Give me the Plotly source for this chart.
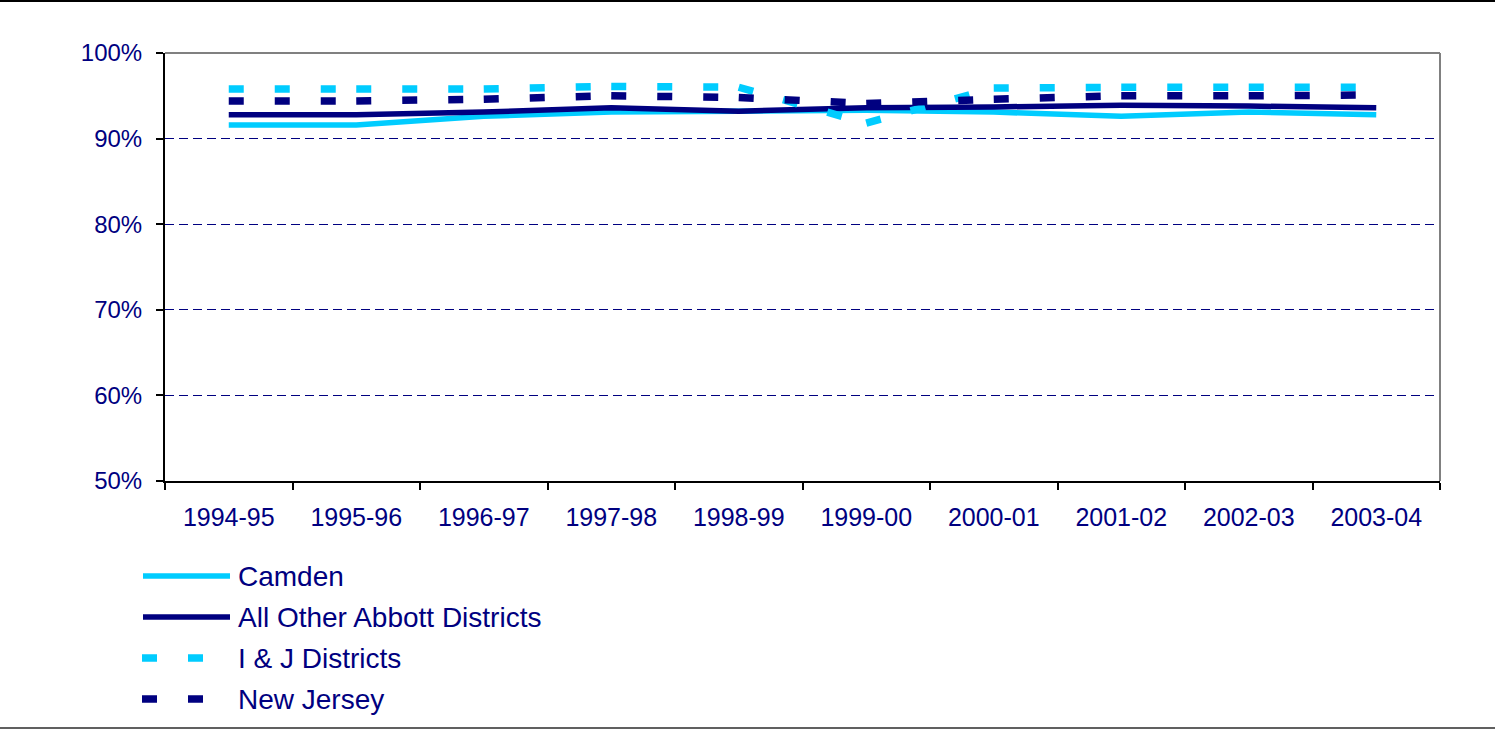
import plotly.graph_objects as go

# ---------------- data ----------------
years = ["1994-95", "1995-96", "1996-97", "1997-98", "1998-99",
         "1999-00", "2000-01", "2001-02", "2002-03", "2003-04"]
series_names = ["Camden", "All Other Abbott Districts", "I & J Districts", "New Jersey"]
camden = [91.6, 91.6, 92.6, 93.1, 93.2, 93.3, 93.1, 92.6, 93.1, 92.8]
all_other_abbott = [92.8, 92.8, 93.1, 93.6, 93.2, 93.6, 93.7, 93.9, 93.8, 93.6]
i_and_j = [95.8, 95.8, 95.8, 96.1, 96.0, 91.8, 95.9, 96.0, 96.0, 96.0]
new_jersey = [94.4, 94.4, 94.6, 95.0, 94.8, 94.1, 94.6, 95.0, 95.0, 95.1]
y_ticks = [50, 60, 70, 80, 90, 100]

# ---------------- style ----------------
CYAN = "#00CCFF"
NAVY = "#000080"
FONT = "Arial, Liberation Sans, sans-serif"
W, H = 1495, 729
ML, MR, MT, MB = 165, 55, 53, 248
PW, PH = W - ML - MR, H - MT - MB
DASH = "15px,31px"

styles = [
    dict(color=CYAN, width=5.5, dash="solid"),
    dict(color=NAVY, width=5.5, dash="solid"),
    dict(color=CYAN, width=7.5, dash=DASH),
    dict(color=NAVY, width=7.5, dash=DASH),
]
values = [camden, all_other_abbott, i_and_j, new_jersey]


def px(x):
    return (x - ML) / PW


def py(y):
    return (H - MB - y) / PH


fig = go.Figure()
for name, vals, st in zip(series_names, values, styles):
    if st["dash"] == "solid":
        fig.add_trace(go.Scatter(x=years, y=vals, mode="lines", name=name,
                                 line=dict(color=st["color"], width=st["width"]),
                                 showlegend=False))
    else:
        # Excel restarts the dash pattern on each segment
        for i in range(len(years) - 1):
            fig.add_trace(go.Scatter(x=years[i:i + 2], y=vals[i:i + 2], mode="lines",
                                     name=name,
                                     line=dict(color=st["color"], width=st["width"],
                                               dash=st["dash"]),
                                     showlegend=False))

shapes = [
    # plot area border (top and right, grey)
    dict(type="line", xref="paper", yref="paper", x0=0, x1=1, y0=1, y1=1,
         line=dict(color="#808080", width=2)),
    dict(type="line", xref="paper", yref="paper", x0=1, x1=1, y0=0, y1=1,
         line=dict(color="#808080", width=2)),
    # picture frame lines
    dict(type="line", xref="paper", yref="paper", x0=px(0), x1=px(W), y0=py(1), y1=py(1),
         line=dict(color="#000000", width=2)),
    dict(type="line", xref="paper", yref="paper", x0=px(0), x1=px(W), y0=py(728), y1=py(728),
         line=dict(color="#606060", width=2)),
]

annotations = []
legend_y = [576, 617, 658, 699]
for name, st, ly in zip(series_names, styles, legend_y):
    if st["dash"] == "solid":
        shapes.append(dict(type="line", xref="paper", yref="paper",
                           x0=px(143), x1=px(230), y0=py(ly), y1=py(ly),
                           line=dict(color=st["color"], width=st["width"])))
    else:
        shapes.append(dict(type="line", xref="paper", yref="paper",
                           x0=px(142), x1=px(203), y0=py(ly), y1=py(ly),
                           line=dict(color=st["color"], width=st["width"], dash=DASH)))
    annotations.append(dict(xref="paper", yref="paper", x=px(236), y=py(ly),
                            text=name, showarrow=False, xanchor="left", yanchor="middle",
                            font=dict(family=FONT, size=28, color=NAVY)))

fig.update_layout(
    width=W, height=H,
    margin=dict(l=ML, r=MR, t=MT, b=MB),
    paper_bgcolor="white", plot_bgcolor="white",
    showlegend=False,
    shapes=shapes,
    annotations=annotations,
    font=dict(family=FONT, color=NAVY),
)
fig.update_xaxes(
    type="category", range=[-0.5, len(years) - 0.5],
    tickson="boundaries", ticks="outside", ticklen=7, tickwidth=1.5, tickcolor="black",
    showline=True, linecolor="black", linewidth=2, showgrid=False, zeroline=False,
    ticklabelstandoff=13,
    tickfont=dict(family=FONT, size=25, color=NAVY),
)
fig.update_yaxes(
    range=[50, 100], tickvals=y_ticks, ticktext=[f"{v}%" for v in y_ticks],
    ticks="outside", ticklen=7, tickwidth=1.5, tickcolor="black",
    showline=True, linecolor="black", linewidth=2,
    showgrid=True, gridcolor=NAVY, gridwidth=1, griddash="9px,5px", zeroline=False,
    ticklabelstandoff=9,
    tickfont=dict(family=FONT, size=24, color=NAVY),
)

fig.write_html("out.html",
               config={"displayModeBar": False},
               post_script="document.body.style.margin='0';document.body.style.padding='0';")
